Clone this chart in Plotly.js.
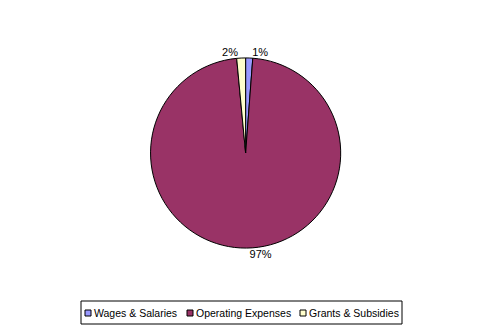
<!DOCTYPE html>
<html>
<head>
<meta charset="utf-8">
<script src="https://cdn.plot.ly/plotly-3.0.1.min.js"></script>
<style>html,body{margin:0;padding:0;background:#fff;}#chart{width:491px;height:333px;}</style>
</head>
<body>
<div id="chart"></div>
<script>
const categories = ["Wages & Salaries", "Operating Expenses", "Grants & Subsidies"];
const values = [1.2, 97.3, 1.5];
const colors = ["#9999FF", "#993366", "#FFFFCC"];

const W = 491, H = 333;
const FONT = "Arial, Liberation Sans, sans-serif";

const trace = {
  type: "pie",
  labels: categories,
  values: values,
  sort: false,
  direction: "clockwise",
  rotation: 0,
  marker: {colors: colors, line: {color: "#000000", width: 1}},
  texttemplate: "%{percent:.0%}",
  textposition: "outside",
  textfont: {family: FONT, size: 11, color: "#000"},
  hoverinfo: "none",
  showlegend: false,
  domain: {x: [0.3065, 0.694], y: [0.255, 0.826]}
};

// Legend layout (pixel positions, converted to paper coords)
const legendBox = {x0: 81, x1: 402, y0: 301, y1: 324};
const legendItemX = [85, 187, 300];
const px = x => x / W;
const py = y => 1 - y / H;

const shapes = [{
  type: "rect", xref: "paper", yref: "paper",
  x0: px(legendBox.x0), x1: px(legendBox.x1), y0: py(legendBox.y1), y1: py(legendBox.y0),
  line: {color: "#000", width: 1}, fillcolor: "#fff"
}];
const annotations = [];
categories.forEach((c, i) => {
  const sx = legendItemX[i];
  shapes.push({
    type: "rect", xref: "paper", yref: "paper",
    x0: px(sx), x1: px(sx + 6), y0: py(316), y1: py(310),
    line: {color: "#000", width: 1}, fillcolor: colors[i]
  });
  annotations.push({
    xref: "paper", yref: "paper", x: px(sx + 6.5), y: py(313),
    xanchor: "left", yanchor: "middle", showarrow: false,
    text: c, font: {family: FONT, size: 10.5, color: "#000"}
  });
});

const layout = {
  width: W, height: H,
  margin: {l: 0, r: 0, t: 0, b: 0},
  paper_bgcolor: "#fff",
  showlegend: false,
  shapes: shapes,
  annotations: annotations
};

Plotly.newPlot("chart", [trace], layout, {staticPlot: true, displayModeBar: false});
</script>
</body>
</html>
